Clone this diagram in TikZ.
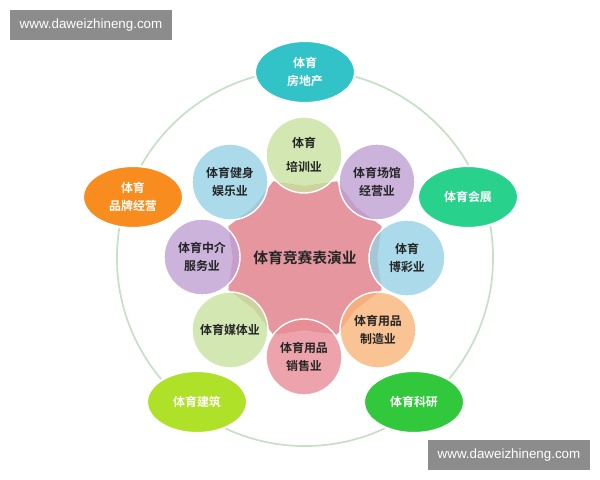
\documentclass[tikz,border=0pt]{standalone}
\usepackage{fontspec}
\newfontfamily\cjk{Noto Sans CJK SC}[BoldFont={Noto Sans CJK SC Bold}]
\newfontfamily\wmf{Liberation Sans}
\usetikzlibrary{shapes.geometric}
\definecolor{starc}{RGB}{230,150,158}
\definecolor{cg}{RGB}{200,226,160}
\definecolor{cv}{RGB}{190,160,212}
\definecolor{cc}{RGB}{150,210,230}
\definecolor{co}{RGB}{248,180,120}
\definecolor{cr}{RGB}{232,140,150}
\definecolor{o1c}{RGB}{50,195,200}
\definecolor{o2c}{RGB}{40,210,140}
\definecolor{o3c}{RGB}{50,200,60}
\definecolor{o4c}{RGB}{175,225,40}
\definecolor{o5c}{RGB}{248,140,30}
\begin{document}
\begin{tikzpicture}[x=0.025cm,y=-0.025cm,font=\cjk\bfseries,
  sm/.style={circle,minimum size=1.9cm,inner sep=0pt,draw=white,line width=1pt,fill opacity=0.8,text opacity=1,font=\cjk\bfseries\fontsize{8.5}{13}\selectfont,align=center,text=black!85},
  outer/.style={ellipse,minimum width=2.5cm,minimum height=1.55cm,draw=white,line width=1.5pt,text=white,font=\cjk\bfseries\fontsize{8.5}{13}\selectfont,align=center},
  wm/.style={fill=black!45,text=white,font=\wmf\fontsize{9.5}{11}\selectfont,minimum width=4.05cm,minimum height=0.75cm,inner sep=0pt}]
\useasboundingbox (0,0) rectangle (600,480);
\fill[white] (0,0) rectangle (600,480);
\node[wm] (w1) at (91,25) {www.daweizhineng.com};
\node[wm] (w2) at (509,455) {www.daweizhineng.com};
\coordinate (c) at (305,258);
\draw[draw=green!30!gray!35,line width=1.2pt] (c) circle[radius=4.7cm];
\node[star,star points=8,star point ratio=1.15,minimum size=4.15cm,rotate=22.5,fill=starc,inner sep=0pt] (star) at (c) {};
\node[sm,fill=cg] (a1) at (304,155) {体育\\[4pt]培训业};
\node[sm,fill=cv] (a2) at (377,182) {体育场馆\\经营业};
\node[sm,fill=cc] (a3) at (407,258) {体育\\博彩业};
\node[sm,fill=co] (a4) at (378,330) {体育用品\\制造业};
\node[sm,fill=cr] (a5) at (304,357) {体育用品\\销售业};
\node[sm,fill=cg] (a6) at (230,330) {体育媒体业};
\node[sm,fill=cv] (a7) at (202,257) {体育中介\\服务业};
\node[sm,fill=cc] (a8) at (230,182) {体育健身\\娱乐业};
\node[font=\cjk\bfseries\fontsize{10.5}{13}\selectfont,text=black!85] (ct) at (c) {体育竞赛表演业};
\node[outer,fill=o1c] (o1) at (305,72) {体育\\房地产};
\node[outer,fill=o2c] (o2) at (468,197) {体育会展};
\node[outer,fill=o3c] (o3) at (414,402) {体育科研};
\node[outer,fill=o4c] (o4) at (197,402) {体育建筑};
\node[outer,fill=o5c] (o5) at (133,197) {体育\\品牌经营};
\end{tikzpicture}
\end{document}
